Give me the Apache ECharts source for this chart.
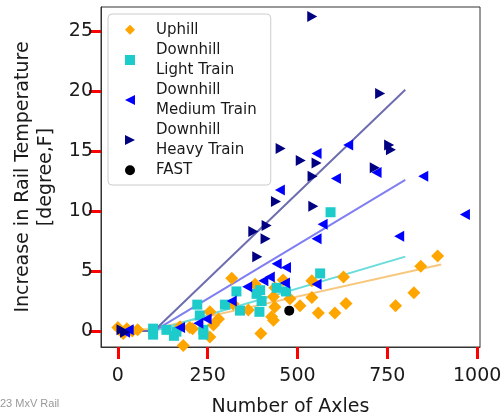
<!DOCTYPE html>
<html>
<head>
<meta charset="utf-8">
<script src="https://cdn.jsdelivr.net/npm/echarts@6/dist/echarts.min.js"></script>
<style>
  html, body { margin: 0; padding: 0; background: #fff; }
  #chart { width: 503px; height: 416px; }
</style>
</head>
<body>
<div id="chart"></div>
<script>
// [axles, temperature rise]
const uphill = [
  [0, 0.3], [15, -0.2], [25, 0.2], [40, 0], [55, 0.1], [145, -1.45], [182, -1.2],
  [173, 0.35], [200, 0.3], [208, 0.2], [256, -0.5], [256, 1.6], [266, 0.5], [280, 1.0],
  [321, 2.25], [317, 4.4], [363, 1.75], [382, 3.9], [398, -0.2], [428, 1.2], [433, 0.9],
  [437, 2.0], [433, 2.85], [437, 3.6], [460, 4.25], [479, 2.7], [507, 2.1], [540, 2.8],
  [540, 4.2], [558, 1.5], [604, 1.5], [628, 4.5], [635, 2.3], [773, 2.1], [824, 3.2],
  [843, 5.4], [890, 6.25]
];
const lightTrain = [
  [98, 0.2], [98, -0.3], [135, 0.1], [156, -0.4], [163, -0.05], [221, 2.2], [228, 1.3],
  [238, 0.1], [238, -0.3], [298, 2.2], [330, 3.3], [340, 1.7], [386, 3.1], [396, 3.4],
  [394, 1.6], [400, 2.5], [442, 3.6], [468, 3.3], [563, 4.8], [592, 9.9]
];
const mediumTrain = [
  [20, -0.1], [30, 0.1], [173, 0.3], [224, 0.65], [247, 1.0], [317, 2.5], [360, 3.7],
  [405, 4.2], [423, 4.5], [442, 5.6], [465, 4.0], [468, 5.3], [451, 11.75], [553, 14.8],
  [553, 7.7], [553, 3.9], [570, 8.9], [607, 12.7], [641, 15.5], [783, 7.9], [850, 12.9],
  [966, 9.7], [720, 13.2]
];
const heavyTrain = [
  [10, 0.1], [20, -0.1], [377, 8.3], [388, 6.2], [411, 7.7], [414, 8.8], [440, 10.8],
  [453, 15.2], [509, 14.2], [542, 12.9], [544, 10.4], [553, 14.0], [541, 26.2],
  [730, 19.8], [755, 15.5], [760, 15.1], [715, 13.6]
];
const fast = [[477, 1.7]];

// fitted trend lines
const uphillFit = [[0, 0], [100, 0.2], [900, 5.55]];
const lightFit = [[0, 0], [100, 0], [800, 6.2]];
const mediumFit = [[0, 0], [100, 0], [800, 12.6]];
const heavyFit = [[0, 0], [100, 0], [800, 20.1]];

const xTicks = [0, 250, 500, 750, 1000];
const yTicks = [0, 5, 10, 15, 20, 25];

const font = 'DejaVu Sans';
const ink = '#1a1a1a';
const leftTri = 'path://M0,5L10,0L10,10Z';
const rightTri = 'path://M10,5L0,0L0,10Z';

function fitLine(data, color) {
  return {
    type: 'line', data: data, symbol: 'none', silent: true,
    lineStyle: { color: color, width: 2 }, z: 1
  };
}

const chart = echarts.init(document.getElementById('chart'));
chart.setOption({
  animation: false,
  textStyle: { fontFamily: font },
  grid: {
    left: 101, right: 23, top: 7, bottom: 69,
    outerBoundsMode: 'none',
    show: true, borderColor: '#333', borderWidth: 1
  },
  xAxis: {
    type: 'value', min: -47, max: 1008,
    axisLine: { show: true, onZero: false, lineStyle: { color: '#333', width: 1 } },
    splitLine: { show: false },
    axisTick: { show: true, customValues: xTicks, length: 12, lineStyle: { color: 'red', width: 3 } },
    axisLabel: {
      customValues: xTicks, fontSize: 19, color: ink, margin: 20, fontFamily: font,
      formatter: v => String(v)
    },
    name: 'Number of Axles', nameLocation: 'middle', nameGap: 51,
    nameTextStyle: { fontSize: 19, color: ink, fontFamily: font }
  },
  yAxis: {
    type: 'value', min: -1.33, max: 27.0,
    axisLine: { show: true, onZero: false, lineStyle: { color: '#333', width: 1 } },
    splitLine: { show: false },
    axisTick: { show: true, customValues: yTicks, length: 12, lineStyle: { color: 'red', width: 3 } },
    axisLabel: { customValues: yTicks, fontSize: 19, color: ink, margin: 8, fontFamily: font }
  },
  graphic: [
    {
      type: 'text', x: 35, y: 177, rotation: Math.PI / 2,
      style: {
        text: 'Increase in Rail Temperature\n[degree,F]', fontSize: 19, lineHeight: 23,
        fill: ink, fontFamily: font, align: 'center', verticalAlign: 'middle'
      }
    },
    {
      type: 'text', x: 0, y: 398,
      style: { text: '23 MxV Rail', fontSize: 11, fill: '#999', fontFamily: 'Liberation Sans' }
    }
  ],
  legend: {
    orient: 'vertical', left: 108, top: 14,
    backgroundColor: '#fff', borderColor: '#ccc', borderWidth: 1, borderRadius: 4,
    padding: [6, 14, 5, 17], itemGap: 1, itemWidth: 10, itemHeight: 10,
    textStyle: { fontSize: 15, color: ink, lineHeight: 19.5, fontFamily: font, padding: [0, 0, 0, 16] },
    data: [
      { name: 'Uphill', icon: 'diamond' },
      { name: 'Downhill\nLight Train', icon: 'rect' },
      { name: 'Downhill\nMedium Train', icon: leftTri },
      { name: 'Downhill\nHeavy Train', icon: rightTri },
      { name: 'FAST', icon: 'circle' }
    ]
  },
  series: [
    fitLine(uphillFit, '#f8c77e'),
    fitLine(lightFit, '#6adcdc'),
    fitLine(mediumFit, '#7f7ff2'),
    fitLine(heavyFit, '#6d6db0'),
    {
      name: 'Uphill', type: 'scatter', data: uphill, symbol: 'diamond', symbolSize: 13,
      itemStyle: { color: '#ffa500', opacity: 1 }, z: 2
    },
    {
      name: 'Downhill\nLight Train', type: 'scatter', data: lightTrain, symbol: 'rect', symbolSize: 10,
      itemStyle: { color: '#1ecbcb', opacity: 1 }, z: 3
    },
    {
      name: 'Downhill\nMedium Train', type: 'scatter', data: mediumTrain, symbol: leftTri, symbolSize: [10, 11],
      itemStyle: { color: '#0000ff', opacity: 1 }, z: 4
    },
    {
      name: 'Downhill\nHeavy Train', type: 'scatter', data: heavyTrain, symbol: rightTri, symbolSize: [10, 11],
      itemStyle: { color: '#000080', opacity: 1 }, z: 5
    },
    {
      name: 'FAST', type: 'scatter', data: fast, symbol: 'circle', symbolSize: 10,
      itemStyle: { color: '#000', opacity: 1 }, z: 6
    }
  ]
});
</script>
</body>
</html>
